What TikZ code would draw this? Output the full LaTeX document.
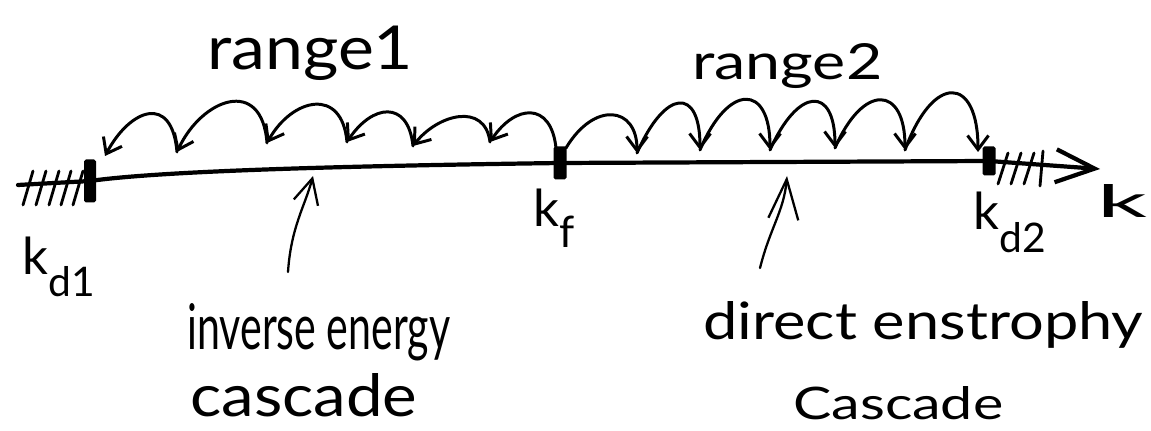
\documentclass[tikz,border=0pt]{standalone}
\usepackage{fontspec}
\setmainfont{Lato}
\usepackage{graphicx}
\usetikzlibrary{arrows.meta,calc}
\begin{document}
\begin{tikzpicture}[x=0.02cm,y=-0.02cm,
  hand/.style={line width=1.7pt,line cap=round,line join=round},
  cascarrow/.style={hand,-{Straight Barb[length=0.28cm,width=0.42cm]}},
  labarrow/.style={line width=1.3pt,line cap=round},
  axisline/.style={line width=2.4pt,line cap=round,line join=round},
  hatch/.style={line width=1.6pt,line cap=round},
  bar/.style={rectangle,fill=black,draw=none,inner sep=0pt,rounded corners=1pt},
  txt/.style={inner sep=0pt,anchor=base west},
  klabel/.style={txt,font=\fontsize{29}{32}\selectfont}
]
\path[use as bounding box] (0,0) rectangle (1151,431);

% markers on the axis
\node[bar,minimum width=0.24cm,minimum height=0.86cm] (D1) at (90,181) {};
\node[bar,minimum width=0.26cm,minimum height=0.66cm] (F) at (560,163) {};
\node[bar,minimum width=0.26cm,minimum height=0.58cm] (D2) at (989,161) {};
\coordinate (A0) at (18,185);
\coordinate (AT) at (1100,169);

% axis
\draw[axisline] (A0) -- (D1.center)
  .. controls ($(D1.center)+(70,-10)$) and ($(F.center)+(-220,3)$) .. (F.center)
  -- (D2.center);
\draw[axisline,-{Straight Barb[length=0.78cm,width=0.66cm]}] (D2.center) -- (AT);

% hatching
\foreach \x in {28,41,54,66,78}
  \draw[hatch] (\x-5,205) -- (\x+5,171);
\foreach \x in {1003,1016,1029}
  \draw[hatch] (\x-5,184) -- (\x+5,153);
\draw[hatch] (1043,151) -- (1040,186);

% range 1 arcs (leftward)
\coordinate (L0) at (556,148);
\coordinate (L1) at (490,142);
\coordinate (L2) at (413,146);
\coordinate (L3) at (347,142);
\coordinate (L4) at (267,143);
\coordinate (L5) at (177,152);
\coordinate (L6) at (105,156);
\foreach \a/\b/\h in {L0/L1/47,L1/L2/40,L2/L3/47,L3/L4/56,L4/L5/67,L5/L6/59}
  \draw[cascarrow] (\a) .. controls ($(\a)+(-5,-\h)$) and ($(\b)+(25,-0.8*\h)$) .. (\b);

% range 2 arcs (rightward)
\coordinate (R0) at (566,148);
\coordinate (R1) at (637,153);
\coordinate (R2) at (700,150);
\coordinate (R3) at (770,150);
\coordinate (R4) at (835,148);
\coordinate (R5) at (905,150);
\coordinate (R6) at (978,152);
\foreach \a/\b/\h in {R0/R1/47,R1/R2/64,R2/R3/67,R3/R4/63,R4/R5/65,R5/R6/77}
  \draw[cascarrow] (\a) .. controls ($(\a)+(28,-\h)$) and ($(\b)+(0,-\h)$) .. (\b);

% labels
\node[txt] (range1) at (207,70) {\resizebox{4.12cm}{0.87cm}{range1}};
\node[txt] (range2) at (692,80) {\resizebox{3.80cm}{0.72cm}{range2}};
\node[klabel] (kd1) at (22,275) {k\raisebox{-0.42em}{\scalebox{0.8}{d1}}};
\node[klabel] (kf) at (533,227) {k\raisebox{-0.40em}{\scalebox{0.85}{f}}};
\node[klabel] (kd2) at (973,230) {k\raisebox{-0.45em}{\scalebox{0.8}{d2}}};
\node[txt] (k) at (1097,218) {\resizebox{1.0cm}{0.66cm}{k}};

\node[txt] (inv) at (187,350) {\resizebox{5.26cm}{0.92cm}{inverse energy}};
\node[txt] (casc1) at (190,417) {\resizebox{4.54cm}{0.86cm}{cascade}};
\node[txt] (dir) at (703,340) {\resizebox{8.80cm}{0.76cm}{direct enstrophy}};
\node[txt] (casc2) at (793,420) {\resizebox{4.20cm}{0.66cm}{Cascade}};

% pointer arrows
\coordinate (IA0) at (288,272);
\coordinate (IA1) at (313,176);
\draw[labarrow,-{Straight Barb[length=0.5cm,width=0.5cm]}] (IA0)
  .. controls ($(IA0)+(3,-45)$) and ($(IA1)+(-8,30)$) .. (IA1);
\coordinate (DA0) at (760,268);
\coordinate (DA1) at (787,176);
\draw[labarrow,-{Straight Barb[length=0.8cm,width=0.6cm]}] (DA0)
  .. controls ($(DA0)+(10,-40)$) and ($(DA1)+(-3,35)$) .. (DA1);
\end{tikzpicture}
\end{document}
